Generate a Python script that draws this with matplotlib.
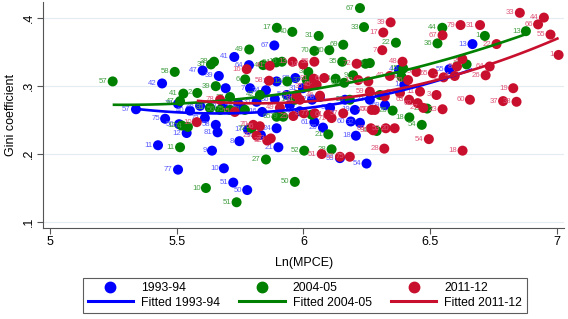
import matplotlib
matplotlib.use("Agg")
import matplotlib.pyplot as plt
import numpy as np
from matplotlib.lines import Line2D

plt.rcParams["font.family"] = ["Liberation Sans", "DejaVu Sans"]

# ---------------- data ----------------
blue_lab = ["57","75","42","56","12","11","77","9","10","51","50","81","8","58","21","53","54",
            "61","26","60","32","18","24","67","41","47","39","64","7","13","55","1","4","80",
            "33","29","40","28","30","63","20","65","35","36","16","14","44","62","3","2","19",
            "23","69","76","34","5","17","73","72","66","31"]
blue_x = [5.339,5.454,5.442,5.509,5.539,5.426,5.505,5.639,5.686,5.723,5.778,5.661,5.747,5.654,5.901,
          6.144,6.249,6.043,6.077,6.187,6.223,6.207,5.894,5.885,5.727,5.602,5.666,5.785,5.789,6.667,
          6.576,6.398,6.377,5.968,5.894,5.693,5.552,5.592,5.631,5.682,5.742,5.761,5.815,5.887,5.837,
          5.946,5.986,6.034,6.105,6.164,6.203,6.262,6.322,5.505,5.852,5.934,5.781,5.832,5.611,6.065,5.998]
blue_y = [0.266,0.252,0.304,0.244,0.231,0.213,0.177,0.205,0.179,0.158,0.147,0.232,0.219,0.243,0.210,
          0.194,0.186,0.247,0.239,0.248,0.246,0.227,0.238,0.360,0.343,0.323,0.315,0.331,0.297,0.362,
          0.325,0.302,0.324,0.312,0.307,0.297,0.264,0.271,0.268,0.270,0.275,0.267,0.277,0.281,0.262,
          0.272,0.263,0.280,0.268,0.280,0.265,0.280,0.272,0.274,0.294,0.287,0.236,0.228,0.253,0.284,0.297]

green_lab = ["57","58","41","30","38","49","6","39","2","11","10","51","27","52","50","28","21",
             "67","33","17","40","31","70","20","69","35","19","61","9","44","1","13","36","22",
             "15","62","45","26","18","54","23","5","48","24","16","4","3","37","8","12","47",
             "81","56","75","74","12","65","79","63","72","42","14","60","55","43","32"]
green_x = [5.247,5.492,5.526,5.635,5.647,5.786,5.770,5.654,5.581,5.513,5.615,5.736,5.852,6.003,5.966,
           6.111,6.098,6.223,6.239,5.895,5.956,6.060,6.043,6.102,6.157,6.153,6.245,6.161,6.196,6.548,
           6.716,6.878,6.529,6.365,6.394,6.644,6.262,6.352,6.418,6.467,6.488,6.387,6.289,5.892,5.915,
           5.841,6.019,6.013,6.127,5.936,5.513,5.631,5.671,5.710,5.544,5.520,5.894,5.920,6.032,5.795,
           5.828,5.966,5.769,6.183,6.302,5.710]
green_y = [0.307,0.321,0.289,0.332,0.336,0.354,0.310,0.300,0.290,0.210,0.150,0.129,0.192,0.205,0.159,
           0.207,0.229,0.415,0.387,0.386,0.380,0.374,0.352,0.353,0.361,0.336,0.333,0.305,0.316,0.386,
           0.374,0.381,0.363,0.364,0.326,0.332,0.334,0.264,0.254,0.243,0.267,0.314,0.234,0.335,0.336,
           0.331,0.321,0.309,0.311,0.307,0.278,0.268,0.265,0.265,0.240,0.242,0.255,0.255,0.258,0.238,
           0.287,0.280,0.265,0.280,0.287,0.284]

red_lab = ["33","44","66","55","1","39","17","79","31","67","22","7","48","9","8","64","26","65",
           "2","4","5","76","40","19","60","37","38","3","23","27","63","24","11","62","50","59",
           "21","30","53","20","54","28","18","13","14","36","41","16","58","81","6","72","12",
           "43","45","35","34","10","70","56","29","32","73","25","8","77","61","71","57","47",
           "68","51","52","75","31","78","15","49","46"]
red_x = [6.854,6.949,6.926,6.975,7.007,6.344,6.315,6.620,6.697,6.549,6.762,6.311,6.391,6.627,6.606,
         6.735,6.719,6.511,6.553,6.597,6.446,6.413,6.341,6.828,6.657,6.788,6.841,6.525,6.549,6.473,
         6.417,6.381,6.460,6.451,6.282,6.262,6.321,6.275,6.325,6.360,6.495,6.319,6.628,5.957,5.999,
         6.043,5.867,5.776,5.864,6.041,6.082,6.210,6.216,6.256,6.052,6.019,5.973,5.579,5.802,5.828,
         5.815,5.857,5.871,5.960,6.002,6.045,6.098,6.111,6.157,6.269,6.266,6.072,6.144,6.183,5.986,
         5.671,5.729,5.907,6.065]
red_y = [0.408,0.401,0.391,0.376,0.346,0.394,0.379,0.390,0.390,0.375,0.362,0.353,0.336,0.340,0.329,
         0.329,0.316,0.319,0.313,0.315,0.321,0.309,0.315,0.297,0.280,0.278,0.277,0.287,0.266,0.268,
         0.280,0.290,0.292,0.275,0.265,0.292,0.285,0.235,0.238,0.238,0.222,0.208,0.205,0.336,0.332,
         0.336,0.330,0.325,0.308,0.311,0.312,0.333,0.309,0.307,0.302,0.299,0.287,0.247,0.243,0.241,
         0.227,0.220,0.223,0.256,0.260,0.260,0.258,0.253,0.260,0.265,0.238,0.200,0.196,0.196,0.280,
         0.280,0.262,0.268,0.286]

# fitted curves: points
fit_blue_x = [5.339, 5.55, 5.79, 6.05, 6.262, 6.45, 6.667]
fit_blue_y = [0.266, 0.261, 0.262, 0.269, 0.282, 0.300, 0.325]
fit_green_x = [5.247, 5.513, 5.769, 6.05, 6.262, 6.50, 6.878]
fit_green_y = [0.272, 0.274, 0.284, 0.297, 0.311, 0.330, 0.378]
fit_red_x = [5.579, 5.769, 6.0, 6.262, 6.50, 6.75, 7.007]
fit_red_y = [0.277, 0.276, 0.279, 0.288, 0.305, 0.333, 0.372]

series = ["1993-94", "2004-05", "2011-12"]
xticks = [5, 5.5, 6, 6.5, 7]
yticks = [0.1, 0.2, 0.3, 0.4]
ytick_labels = [".1", ".2", ".3", ".4"]

# ---------------- styles ----------------
c_blue, c_green, c_red = "#0000ff", "#008000", "#c8102e"
l_blue, l_green, l_red = "#5c5cff", "#45a045", "#e0577a"

fig = plt.figure(figsize=(5.68, 3.19), dpi=100)
ax = fig.add_axes([0.0757, 0.2853, 0.918, 0.7085])

ms = 52
for xs, ys, labs, col, lcol in [(blue_x, blue_y, blue_lab, c_blue, l_blue),
                                (green_x, green_y, green_lab, c_green, l_green),
                                (red_x, red_y, red_lab, c_red, l_red)]:
    ax.scatter(xs, ys, s=ms, color=col, edgecolors="none", zorder=3)
    for x, y, t in zip(xs, ys, labs):
        ax.annotate(t, (x, y), xytext=(-3.8, 0), textcoords="offset points",
                    ha="right", va="center", fontsize=5.6, color=lcol, zorder=3)

for fx, fy, col in [(fit_blue_x, fit_blue_y, c_blue),
                    (fit_green_x, fit_green_y, c_green),
                    (fit_red_x, fit_red_y, c_red)]:
    p = np.polyfit(fx, fy, 2)
    xx = np.linspace(min(fx), max(fx), 100)
    ax.plot(xx, np.polyval(p, xx), color=col, lw=1.9, zorder=4, solid_capstyle="butt")

ax.set_xlim(4.972, 7.03)
ax.set_ylim(0.0911, 0.424)
ax.set_xticks(xticks)
ax.set_xticklabels([str(t) for t in xticks], fontsize=9)
ax.set_yticks(yticks)
ax.set_yticklabels(ytick_labels, fontsize=9, rotation=90, va="center")
for yv in yticks:
    ax.axhline(yv, color="#e3ecf0", lw=0.8, zorder=0)
for s in ["top", "right"]:
    ax.spines[s].set_visible(False)
for s in ["left", "bottom"]:
    ax.spines[s].set_color("#555555")
    ax.spines[s].set_linewidth(0.8)
ax.tick_params(axis="both", direction="out", length=4, color="#555555", width=0.8, pad=2)
ax.set_xlabel("Ln(MPCE)", fontsize=9, labelpad=6)
ax.set_ylabel("Gini coefficient", fontsize=9, labelpad=4)

handles = [
    Line2D([], [], ls="none", marker="o", color=c_blue, ms=7.5),
    Line2D([], [], color=c_blue, lw=2.2),
    Line2D([], [], ls="none", marker="o", color=c_green, ms=7.5),
    Line2D([], [], color=c_green, lw=2.2),
    Line2D([], [], ls="none", marker="o", color=c_red, ms=7.5),
    Line2D([], [], color=c_red, lw=2.2),
]
labels = [series[0], "Fitted " + series[0], series[1], "Fitted " + series[1],
          series[2], "Fitted " + series[2]]
leg = fig.legend(handles, labels, loc="center", bbox_to_anchor=(0.537, 0.074), ncol=3,
                 fontsize=8.8, frameon=True, fancybox=False, handlelength=3.7,
                 columnspacing=1.6, handletextpad=0.65, labelspacing=0.2, borderpad=0.35,
                 borderaxespad=0)
leg.get_frame().set_edgecolor("#333333")
leg.get_frame().set_linewidth(0.8)

fig.savefig("out.png", dpi=100)
